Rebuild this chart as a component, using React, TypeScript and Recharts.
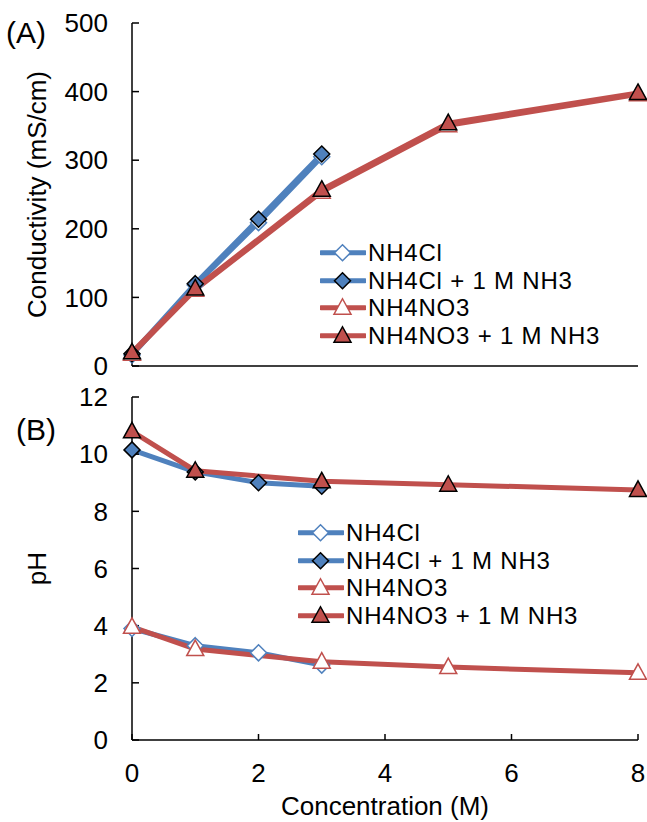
import React from 'react';
import { LineChart, Line, XAxis, YAxis, Legend } from 'recharts';

const BLUE = '#4F81BD';
const RED = '#C0504D';
const FONT = '"Liberation Sans", Arial, sans-serif';
const FS = 26;
const LEG_FS = 24;
const ROW = 27.5;

// Concentrations (M)
const concCl = [0, 1, 2, 3];
const concNO3 = [0, 1, 3, 5, 8];

// (A) Conductivity (mS/cm)
const condNH4Cl = [16, 118, 209, 305];
const condNH4ClNH3 = [18, 120, 214, 309];
const condNH4NO3 = [18, 111, 254, 351, 396];
const condNH4NO3NH3 = [20, 113, 257, 354, 398];

// (B) pH
const pHNH4Cl = [3.9, 3.3, 3.05, 2.62];
const pHNH4ClNH3 = [10.15, 9.38, 9.0, 8.88];
const pHNH4NO3 = [3.96, 3.18, 2.74, 2.55, 2.35];
const pHNH4NO3NH3 = [10.8, 9.42, 9.05, 8.93, 8.75];

const xTicks = [0, 2, 4, 6, 8];
const condTicks = [0, 100, 200, 300, 400, 500];
const pHTicks = [0, 2, 4, 6, 8, 10, 12];

const seriesNames = ['NH4Cl', 'NH4Cl + 1 M NH3', 'NH4NO3', 'NH4NO3 + 1 M NH3'];

const zip = (xs: number[], ys: number[]) => xs.map((x, i) => ({ x, y: ys[i] }));

type MarkerKind = 'diamond' | 'triangle';

const markerShape = (kind: MarkerKind, cx: number, cy: number, fill: string, stroke: string, key?: any) => {
  if (kind === 'diamond') {
    const r = 8;
    return (
      <polygon
        key={key}
        points={`${cx},${cy - r} ${cx + r},${cy} ${cx},${cy + r} ${cx - r},${cy}`}
        fill={fill}
        stroke={stroke}
        strokeWidth={1.5}
      />
    );
  }
  return (
    <polygon
      key={key}
      points={`${cx},${cy - 9} ${cx + 8.5},${cy + 6.5} ${cx - 8.5},${cy + 6.5}`}
      fill={fill}
      stroke={stroke}
      strokeWidth={1.5}
    />
  );
};

const makeDot = (kind: MarkerKind, fill: string, stroke: string) => (props: any) => {
  const { cx, cy, index } = props;
  if (cx == null || cy == null) return <g key={`e${index}`} />;
  return markerShape(kind, cx, cy, fill, stroke, `d${index}`);
};

const seriesStyle = [
  { color: BLUE, kind: 'diamond' as MarkerKind, fill: '#fff', stroke: BLUE },
  { color: BLUE, kind: 'diamond' as MarkerKind, fill: BLUE, stroke: '#000' },
  { color: RED, kind: 'triangle' as MarkerKind, fill: '#fff', stroke: RED },
  { color: RED, kind: 'triangle' as MarkerKind, fill: RED, stroke: '#000' },
];

const renderLegend = () => (
  <div style={{ fontFamily: FONT, fontSize: LEG_FS, lineHeight: `${ROW}px`, letterSpacing: '0.8px', color: '#000' }}>
    {seriesNames.map((name, i) => {
      const s = seriesStyle[i];
      return (
        <div key={name} style={{ display: 'flex', alignItems: 'center', height: ROW, whiteSpace: 'nowrap' }}>
          <svg width={46} height={ROW} style={{ display: 'block' }}>
            <line x1={1} y1={ROW / 2} x2={45} y2={ROW / 2} stroke={s.color} strokeWidth={5} strokeLinecap="round" />
            {markerShape(s.kind, 22.5, ROW / 2, s.fill, s.stroke)}
          </svg>
          <span style={{ marginLeft: 2 }}>{name}</span>
        </div>
      );
    })}
  </div>
);

const tickStyle = { fill: '#000', fontSize: FS, fontFamily: FONT };
const axisLineStyle = { stroke: '#000', strokeWidth: 1.5 };

const lines = (sets: { x: number; y: number }[][]) =>
  sets.map((data, i) => {
    const s = seriesStyle[i];
    return (
      <Line
        key={seriesNames[i]}
        data={data}
        dataKey="y"
        name={seriesNames[i]}
        type="linear"
        stroke={s.color}
        strokeWidth={5}
        dot={makeDot(s.kind, s.fill, s.stroke)}
        activeDot={false}
        isAnimationActive={false}
      />
    );
  });

export default function App() {
  const condSets = [
    zip(concCl, condNH4Cl),
    zip(concCl, condNH4ClNH3),
    zip(concNO3, condNH4NO3),
    zip(concNO3, condNH4NO3NH3),
  ];
  const pHSets = [
    zip(concCl, pHNH4Cl),
    zip(concCl, pHNH4ClNH3),
    zip(concNO3, pHNH4NO3),
    zip(concNO3, pHNH4NO3NH3),
  ];

  return (
    <div style={{ position: 'absolute', left: 0, top: 0, width: 647, height: 822, background: '#fff', fontFamily: FONT }}>
      <div style={{ position: 'absolute', left: 0, top: 0 }}>
        <LineChart width={647} height={380} margin={{ top: 23, right: 9, bottom: 0, left: 0 }}>
          <XAxis
            xAxisId={0}
            dataKey="x"
            type="number"
            domain={[0, 8]}
            ticks={xTicks}
            interval={0}
            height={14}
            tick={false}
            tickSize={-6}
            axisLine={axisLineStyle}
            tickLine={axisLineStyle}
          />
          <XAxis xAxisId="top" orientation="top" type="number" domain={[0, 8]} height={0} tick={false} tickLine={false} axisLine={axisLineStyle} />
          <YAxis
            yAxisId={0}
            type="number"
            domain={[0, 500]}
            ticks={condTicks}
            interval={0}
            width={132}
            tick={tickStyle}
            tickSize={-7}
            tickMargin={31}
            axisLine={axisLineStyle}
            tickLine={axisLineStyle}
            label={{
              value: 'Conductivity (mS/cm)',
              angle: -90,
              position: 'insideLeft',
              offset: 37,
              style: { textAnchor: 'middle', fontSize: FS, fontFamily: FONT, fill: '#000' },
            }}
          />
          <YAxis yAxisId="right" orientation="right" type="number" domain={[0, 500]} width={0} tick={false} tickLine={false} axisLine={axisLineStyle} />
          {lines(condSets)}
          <Legend
            content={renderLegend}
            layout="vertical"
            align="center"
            verticalAlign="middle"
            wrapperStyle={{ left: 320, top: 239, width: 'auto', height: 'auto' }}
          />
        </LineChart>
      </div>
      <div style={{ position: 'absolute', left: 0, top: 0 }}>
        <LineChart width={647} height={822} margin={{ top: 397, right: 9, bottom: 0, left: 0 }}>
          <XAxis
            xAxisId={0}
            dataKey="x"
            type="number"
            domain={[0, 8]}
            ticks={xTicks}
            interval={0}
            height={82}
            tick={tickStyle}
            tickSize={-6}
            tickMargin={30}
            axisLine={axisLineStyle}
            tickLine={axisLineStyle}
            label={{
              value: 'Concentration (M)',
              position: 'insideBottom',
              offset: 7,
              style: { fontSize: FS, fontFamily: FONT, fill: '#000' },
            }}
          />
          <XAxis xAxisId="top" orientation="top" type="number" domain={[0, 8]} height={0} tick={false} tickLine={false} axisLine={axisLineStyle} />
          <YAxis
            yAxisId={0}
            type="number"
            domain={[0, 12]}
            ticks={pHTicks}
            interval={0}
            width={132}
            tick={tickStyle}
            tickSize={-7}
            tickMargin={31}
            axisLine={axisLineStyle}
            tickLine={axisLineStyle}
            label={{
              value: 'pH',
              angle: -90,
              position: 'insideLeft',
              offset: 37,
              style: { textAnchor: 'middle', fontSize: FS, fontFamily: FONT, fill: '#000' },
            }}
          />
          <YAxis yAxisId="right" orientation="right" type="number" domain={[0, 12]} width={0} tick={false} tickLine={false} axisLine={axisLineStyle} />
          {lines(pHSets)}
          <Legend
            content={renderLegend}
            layout="vertical"
            align="center"
            verticalAlign="middle"
            wrapperStyle={{ left: 298, top: 519, width: 'auto', height: 'auto' }}
          />
        </LineChart>
      </div>
      <div style={{ position: 'absolute', left: 6, top: 16, fontSize: 30, lineHeight: '34px', color: '#000' }}>(A)</div>
      <div style={{ position: 'absolute', left: 16, top: 413, fontSize: 30, lineHeight: '34px', color: '#000' }}>(B)</div>
    </div>
  );
}
